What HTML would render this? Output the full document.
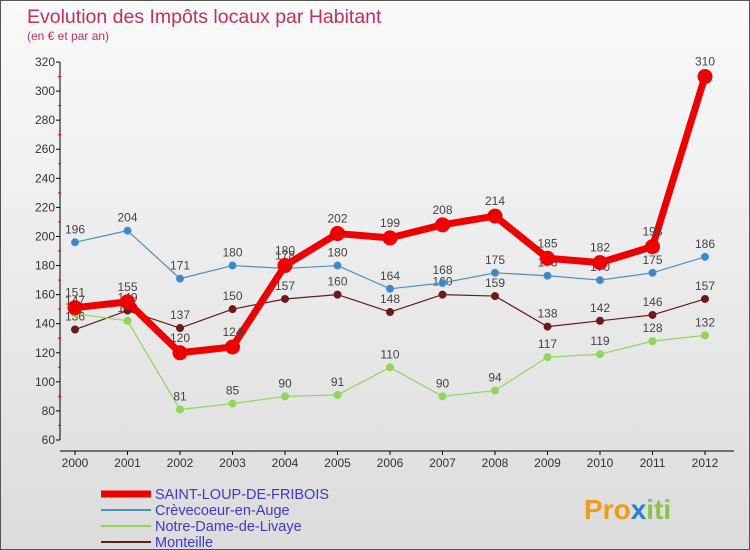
<!DOCTYPE html>
<html><head><meta charset="utf-8"><style>
body{margin:0;width:750px;height:550px;overflow:hidden;font-family:"Liberation Sans",sans-serif}
#wrap{position:relative;width:748px;height:548px;border:1px solid #555;background:linear-gradient(#fafafa,#dcdcdc)}
</style></head><body>
<div id="wrap">
<svg id="chart" width="748" height="548" style="position:absolute;left:0;top:0">
<text x="26" y="22" font-size="19.5" fill="#c0305a">Evolution des Impôts locaux par Habitant</text>
<text x="26" y="39" font-size="12" fill="#c0305a">(en € et par an)</text>
<g id="axes"></g><g id="series"></g><g id="legend"></g>
<text x="583" y="518" font-size="28" font-weight="bold" fill="#f39c12">Pro<tspan fill="#2a7fd0">x</tspan><tspan fill="#8bc34a">iti</tspan></text>
</svg>
</div>
<script>
const years=[2000,2001,2002,2003,2004,2005,2006,2007,2008,2009,2010,2011,2012];
const yTicks=[60,80,100,120,140,160,180,200,220,240,260,280,300,320];
const saintLoup=[151,155,120,124,180,202,199,208,214,185,182,193,310];
const crevecoeur=[196,204,171,180,178,180,164,168,175,173,170,175,186];
const notreDame=[147,142,81,85,90,91,110,90,94,117,119,128,132];
const monteille=[136,149,137,150,157,160,148,160,159,138,142,146,157];
const NS='http://www.w3.org/2000/svg';
const X=i=>74+i*52.5;
const Y=v=>439-(v-60)*(378/260);
function mk(t,a,p){const e=document.createElementNS(NS,t);for(const k in a)e.setAttribute(k,a[k]);p.appendChild(e);return e;}
const ax=document.getElementById('axes');
const yl=mk('line',{x1:59,y1:Y(320),x2:59,y2:Y(60),stroke:'#000','stroke-width':1},ax);


const xl=mk('line',{x1:59,y1:450,x2:733,y2:450,stroke:'#000'},ax);


yTicks.forEach((v,i)=>{
 mk('line',{x1:55,x2:59,y1:Y(v),y2:Y(v),stroke:'#000'},ax);
 if(i<yTicks.length-1) mk('line',{x1:57,x2:60,y1:Y(v+10),y2:Y(v+10),stroke:'#e00'},ax);
 const t=mk('text',{x:54,y:Y(v)+4,'font-size':12,fill:'#333','text-anchor':'end'},ax);t.textContent=v;
 
 
});
years.forEach((y,i)=>{
 mk('line',{x1:X(i),x2:X(i),y1:450,y2:454,stroke:'#000'},ax);
 const t=mk('text',{x:X(i),y:466,'font-size':12,fill:'#333','text-anchor':'middle'},ax);t.textContent=y;
 
 
});
const sg=document.getElementById('series');
function series(data,color,w,r,name,dot){
 const g=mk('g',{},sg);
 
 
 mk('polyline',{points:data.map((v,i)=>X(i)+','+Y(v)).join(' '),fill:'none',stroke:color,'stroke-width':w,'stroke-linejoin':'round'},g);
 data.forEach((v,i)=>{
  const c=mk('circle',{cx:X(i),cy:Y(v),r:r,fill:dot,stroke:color,'stroke-width':1},g);
  
  
  const t=mk('text',{x:X(i),y:Y(v)-9-(r>4?2:0),'font-size':12,fill:'#444','text-anchor':'middle'},g);t.textContent=v;
  
  
 });
}
series(monteille,'#6b1a1a',1.2,3.5,'monteille-series','#6b1a1a');
series(notreDame,'#8fd65a',1.2,3.5,'notre-dame-series','#8fd65a');
series(crevecoeur,'#4a90c8',1.2,3.5,'crevecoeur-series','#3a88cc');
series(saintLoup,'#ee0000',7,7,'saint-loup-series','#ee0000');
const lg=document.getElementById('legend');
[['SAINT-LOUP-DE-FRIBOIS','#ee0000',7],['Crèvecoeur-en-Auge','#4a90c8',2],['Notre-Dame-de-Livaye','#8fd65a',2],['Monteille','#6b1a1a',2]].forEach((e,i)=>{
 const y=493+i*16;
 const g=mk('g',{},lg);
 
 
 mk('line',{x1:100,x2:150,y1:y,y2:y,stroke:e[1],'stroke-width':e[2]},g);
 const t=mk('text',{x:154,y:y+5,'font-size':14.5,fill:'#3a3ad0'},g);t.textContent=e[0];
});
</script>
</body></html>
